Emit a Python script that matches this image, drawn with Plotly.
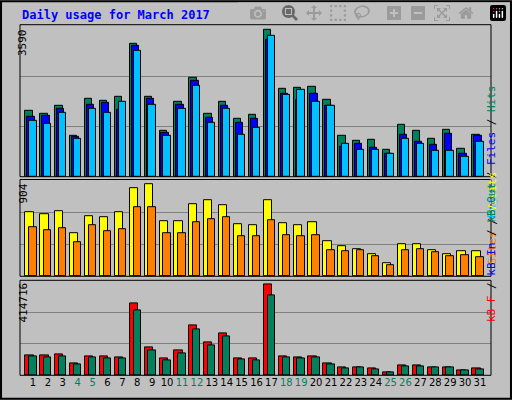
import plotly.graph_objects as go

days = list(range(1, 32))
hits = [1598,1541,1720,1006,1906,1841,1938,3244,1938,1127,1817,2417,1541,1817,1403,1500,3590,2149,2173,2198,1882,1006,884,908,665,1273,1127,933,1152,689,1030]
files = [1468,1492,1663,973,1760,1792,1622,3195,1890,1079,1760,2344,1444,1736,1322,1419,3350,2028,1865,2028,1736,738,811,714,568,1030,860,787,1054,568,1006]
pages = [1371,1298,1565,933,1663,1565,1833,3074,1760,1006,1663,2222,1322,1663,1030,1200,3439,2003,2125,1833,1736,811,665,665,568,933,811,641,641,495,860]
visits = [629,609,638,422,589,579,629,864,904,540,540,707,746,697,511,501,746,521,501,530,344,295,265,216,128,314,314,255,216,246,246]
sites = [481,452,471,334,501,442,462,678,678,422,422,530,560,579,393,393,550,403,393,403,255,246,255,196,108,255,265,236,196,206,187]
kbf = [91140,91140,95700,54700,86600,86600,82000,328100,127600,77500,113900,227900,150400,191400,77500,77500,414716,86600,82000,86600,54700,36500,36500,31900,13700,45600,45600,36500,36500,22800,31900]
kbout = [86600,82000,86600,50100,82000,77500,77500,296200,113900,68400,100300,209600,136700,177700,72900,68400,364600,82000,77500,82000,50100,31900,36500,27300,13700,41000,41000,36500,36500,22800,27300]
weekend = {4,5,11,12,18,19,25,26}
ticktext = [f"<span style='color:#00805c'>{d}</span>" if d in weekend else str(d) for d in days]

fig = go.Figure()
def bar(y, color, off, w, xa, ya):
    fig.add_trace(go.Bar(x=days, y=y, offset=off, width=w, marker=dict(color=color, line=dict(color="black", width=1)),
                         xaxis=xa, yaxis=ya, showlegend=False))
bar(hits, "#00805c", -0.51, 0.49, "x", "y")
bar(files, "#0000ff", -0.38, 0.49, "x", "y")
bar(pages, "#00c0ff", -0.25, 0.49, "x", "y")
bar(visits, "#ffff00", -0.51, 0.55, "x2", "y2")
bar(sites, "#ff8000", -0.25, 0.49, "x2", "y2")
bar(kbf, "#ff0000", -0.51, 0.55, "x3", "y3")
bar(kbout, "#00805c", -0.25, 0.49, "x3", "y3")

xr = [0.127, 31.74]
xd = [20/512, 491/512]
font = dict(family="DejaVu Sans Mono", size=11, color="black")
tickfont = dict(family="DejaVu Sans", size=10, color="black")
ax = dict(range=xr, domain=xd, showgrid=False, zeroline=False, tickvals=days, ticktext=ticktext, ticks="",
          tickfont=tickfont, tickangle=0)
fig.update_layout(
    width=512, height=400, margin=dict(l=0, r=0, t=0, b=0),
    paper_bgcolor="#c0c0c0", plot_bgcolor="#c0c0c0", barmode="overlay", bargap=0,
    xaxis=dict(ax, showticklabels=False, anchor="y"),
    xaxis2=dict(ax, showticklabels=False, anchor="y2"),
    xaxis3=dict(ax, showticklabels=True, anchor="y3"),
    yaxis=dict(domain=[0.558, 0.933], range=[0, 3655], dtick=3655/3, gridcolor="#808080", showticklabels=False, zeroline=False),
    yaxis2=dict(domain=[0.309, 0.547], range=[0, 933], dtick=311, gridcolor="#808080", showticklabels=False, zeroline=False),
    yaxis3=dict(domain=[0.062, 0.299], range=[0, 433000], dtick=144333, gridcolor="#808080", showticklabels=False, zeroline=False),
    font=font,
)
shapes = [dict(type="rect", xref="paper", yref="paper", x0=0.002, x1=0.998, y0=0.003, y1=0.997, line=dict(color="black", width=2))]
for y0, y1 in [(1-176.7/400, 1-24.7/400), (1-276.3/400, 1-179.5/400), (1-375.3/400, 1-280.3/400)]:
    shapes.append(dict(type="rect", xref="paper", yref="paper", x0=xd[0], x1=xd[1], y0=y0, y1=y1, line=dict(color="black", width=1)))
fig.update_layout(shapes=shapes)
ann = [
    dict(x=20/512, y=1-15/400, text="<b>Daily usage for March 2017</b>", font=dict(family="DejaVu Sans Mono", size=12, color="#0000ff"), xanchor="left", yanchor="middle"),
    dict(x=14/512, y=1-27/400, text="3590", textangle=-90, yanchor="top"),
    dict(x=14/512, y=1-182/400, text="904", textangle=-90, yanchor="top"),
    dict(x=14/512, y=1-281/400, text="414716", textangle=-90, yanchor="top"),
    dict(x=500/512, y=1-83/400, textangle=-90, text="<span style='color:#00c0ff'>Pages</span> / <span style='color:#0000ff'>Files</span> / <span style='color:#00805c'>Hits</span>"),
    dict(x=500/512, y=1-218/400, textangle=-90, text="<span style='color:#ff8000'>Sites</span> / <span style='color:#ffff00'>Visits</span>"),
    dict(x=500/512, y=1-324/400, textangle=-90, text="<span style='color:#ff0000'>kB F</span> / <span style='color:#0000ff'>kB In</span> / <span style='color:#00805c'>kB Out</span>"),
]
for a in ann:
    a.setdefault("xref", "paper"); a.setdefault("yref", "paper"); a.setdefault("showarrow", False)
    a.setdefault("font", font)
fig.update_layout(annotations=ann)
fig.write_html("out.html")
with open("out.html", encoding="utf-8") as f:
    html = f.read()
html = html.replace("<body>", "<body style='margin:0;overflow:hidden'>", 1)
with open("out.html", "w", encoding="utf-8") as f:
    f.write(html)
